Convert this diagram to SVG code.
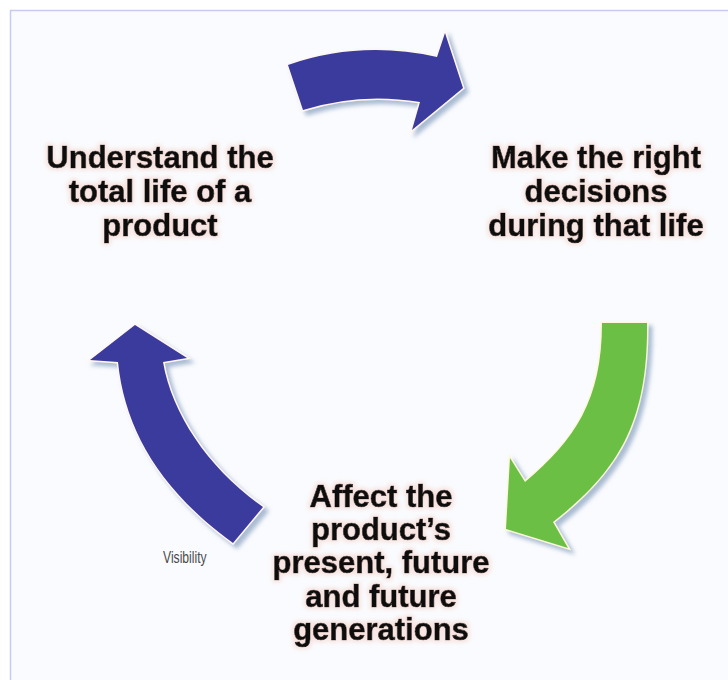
<svg xmlns="http://www.w3.org/2000/svg" width="728" height="680" viewBox="0 0 728 680">
  <defs>
    <style>
      .label { font-family: "Liberation Sans", Arial, sans-serif; font-weight: bold; font-size: 31px; fill: #111111; stroke: #111111; stroke-width: 0.7; text-anchor: middle; filter: url(#halo); }
      .arrow { stroke: #fff6f0; stroke-width: 3; stroke-linejoin: miter; paint-order: stroke; filter: url(#shadow); }
      .blue { fill: #3b3a9d; }
      .green { fill: #6cbf45; stroke: #fdf8dc; }
      .note { font-family: "Liberation Sans", Arial, sans-serif; font-size: 16px; fill: #4a4a4a; }
    </style>
    <!-- soft grey-blue drop shadow under each arrow -->
    <filter id="shadow" x="-20%" y="-20%" width="140%" height="140%">
      <feGaussianBlur in="SourceAlpha" stdDeviation="2"/>
      <feOffset dx="4" dy="4" result="off"/>
      <feFlood flood-color="#8ea6c4" flood-opacity="0.75"/>
      <feComposite in2="off" operator="in" result="sh"/>
      <feMerge>
        <feMergeNode in="sh"/>
        <feMergeNode in="SourceGraphic"/>
      </feMerge>
    </filter>
    <!-- faint warm glow around label text -->
    <filter id="halo" x="-10%" y="-30%" width="120%" height="160%">
      <feMorphology in="SourceAlpha" operator="dilate" radius="1.5" result="d"/>
      <feGaussianBlur in="d" stdDeviation="2" result="b"/>
      <feFlood flood-color="#f3cfc6" flood-opacity="0.55"/>
      <feComposite in2="b" operator="in" result="glow"/>
      <feGaussianBlur in="SourceGraphic" stdDeviation="0.45" result="t"/>
      <feMerge>
        <feMergeNode in="glow"/>
        <feMergeNode in="t"/>
      </feMerge>
    </filter>
  </defs>

  <!-- page and panel -->
  <rect x="0" y="0" width="728" height="680" fill="#ffffff"/>
  <rect x="10.5" y="10.5" width="730" height="680" fill="#fafbfe" stroke="#c8cbef" stroke-width="1.5"/>

  <!-- cycle arrows -->
  <g id="connectors">
    <path id="arrow-top" class="arrow blue" d="M 288,65 Q 360,40 437,57 L 445,33 L 463,88 L 412,130 L 420,102 Q 360,92 303,110 Z"/>
    <path id="arrow-right" class="arrow green" d="M 602,323 L 647,323 C 648,420 620,470 553,522 L 568,548 L 506,529 L 510,458 L 525,482 C 575,440 602,400 602,323 Z"/>
    <path id="arrow-left" class="arrow blue" d="M 135,325 L 187,358 L 163,362 C 172,415 210,470 263,507 L 233,543 C 160,490 125,430 118,362 L 90,360 Z"/>
  </g>

  <g id="node-understand">
    <text class="label" x="160" y="168">Understand the</text>
    <text class="label" x="160" y="202">total life of a</text>
    <text class="label" x="160" y="236">product</text>
  </g>

  <g id="node-decide">
    <text class="label" x="596" y="168">Make the right</text>
    <text class="label" x="596" y="202">decisions</text>
    <text class="label" x="596" y="236">during that life</text>
  </g>

  <g id="node-affect">
    <text class="label" x="381" y="507">Affect the</text>
    <text class="label" x="381" y="540">product’s</text>
    <text class="label" x="381" y="573">present, future</text>
    <text class="label" x="381" y="607">and future</text>
    <text class="label" x="381" y="640">generations</text>
  </g>

  <g id="note-visibility">
    <text class="note" transform="translate(163,563) scale(0.76,1)">Visibility</text>
  </g>
</svg>
